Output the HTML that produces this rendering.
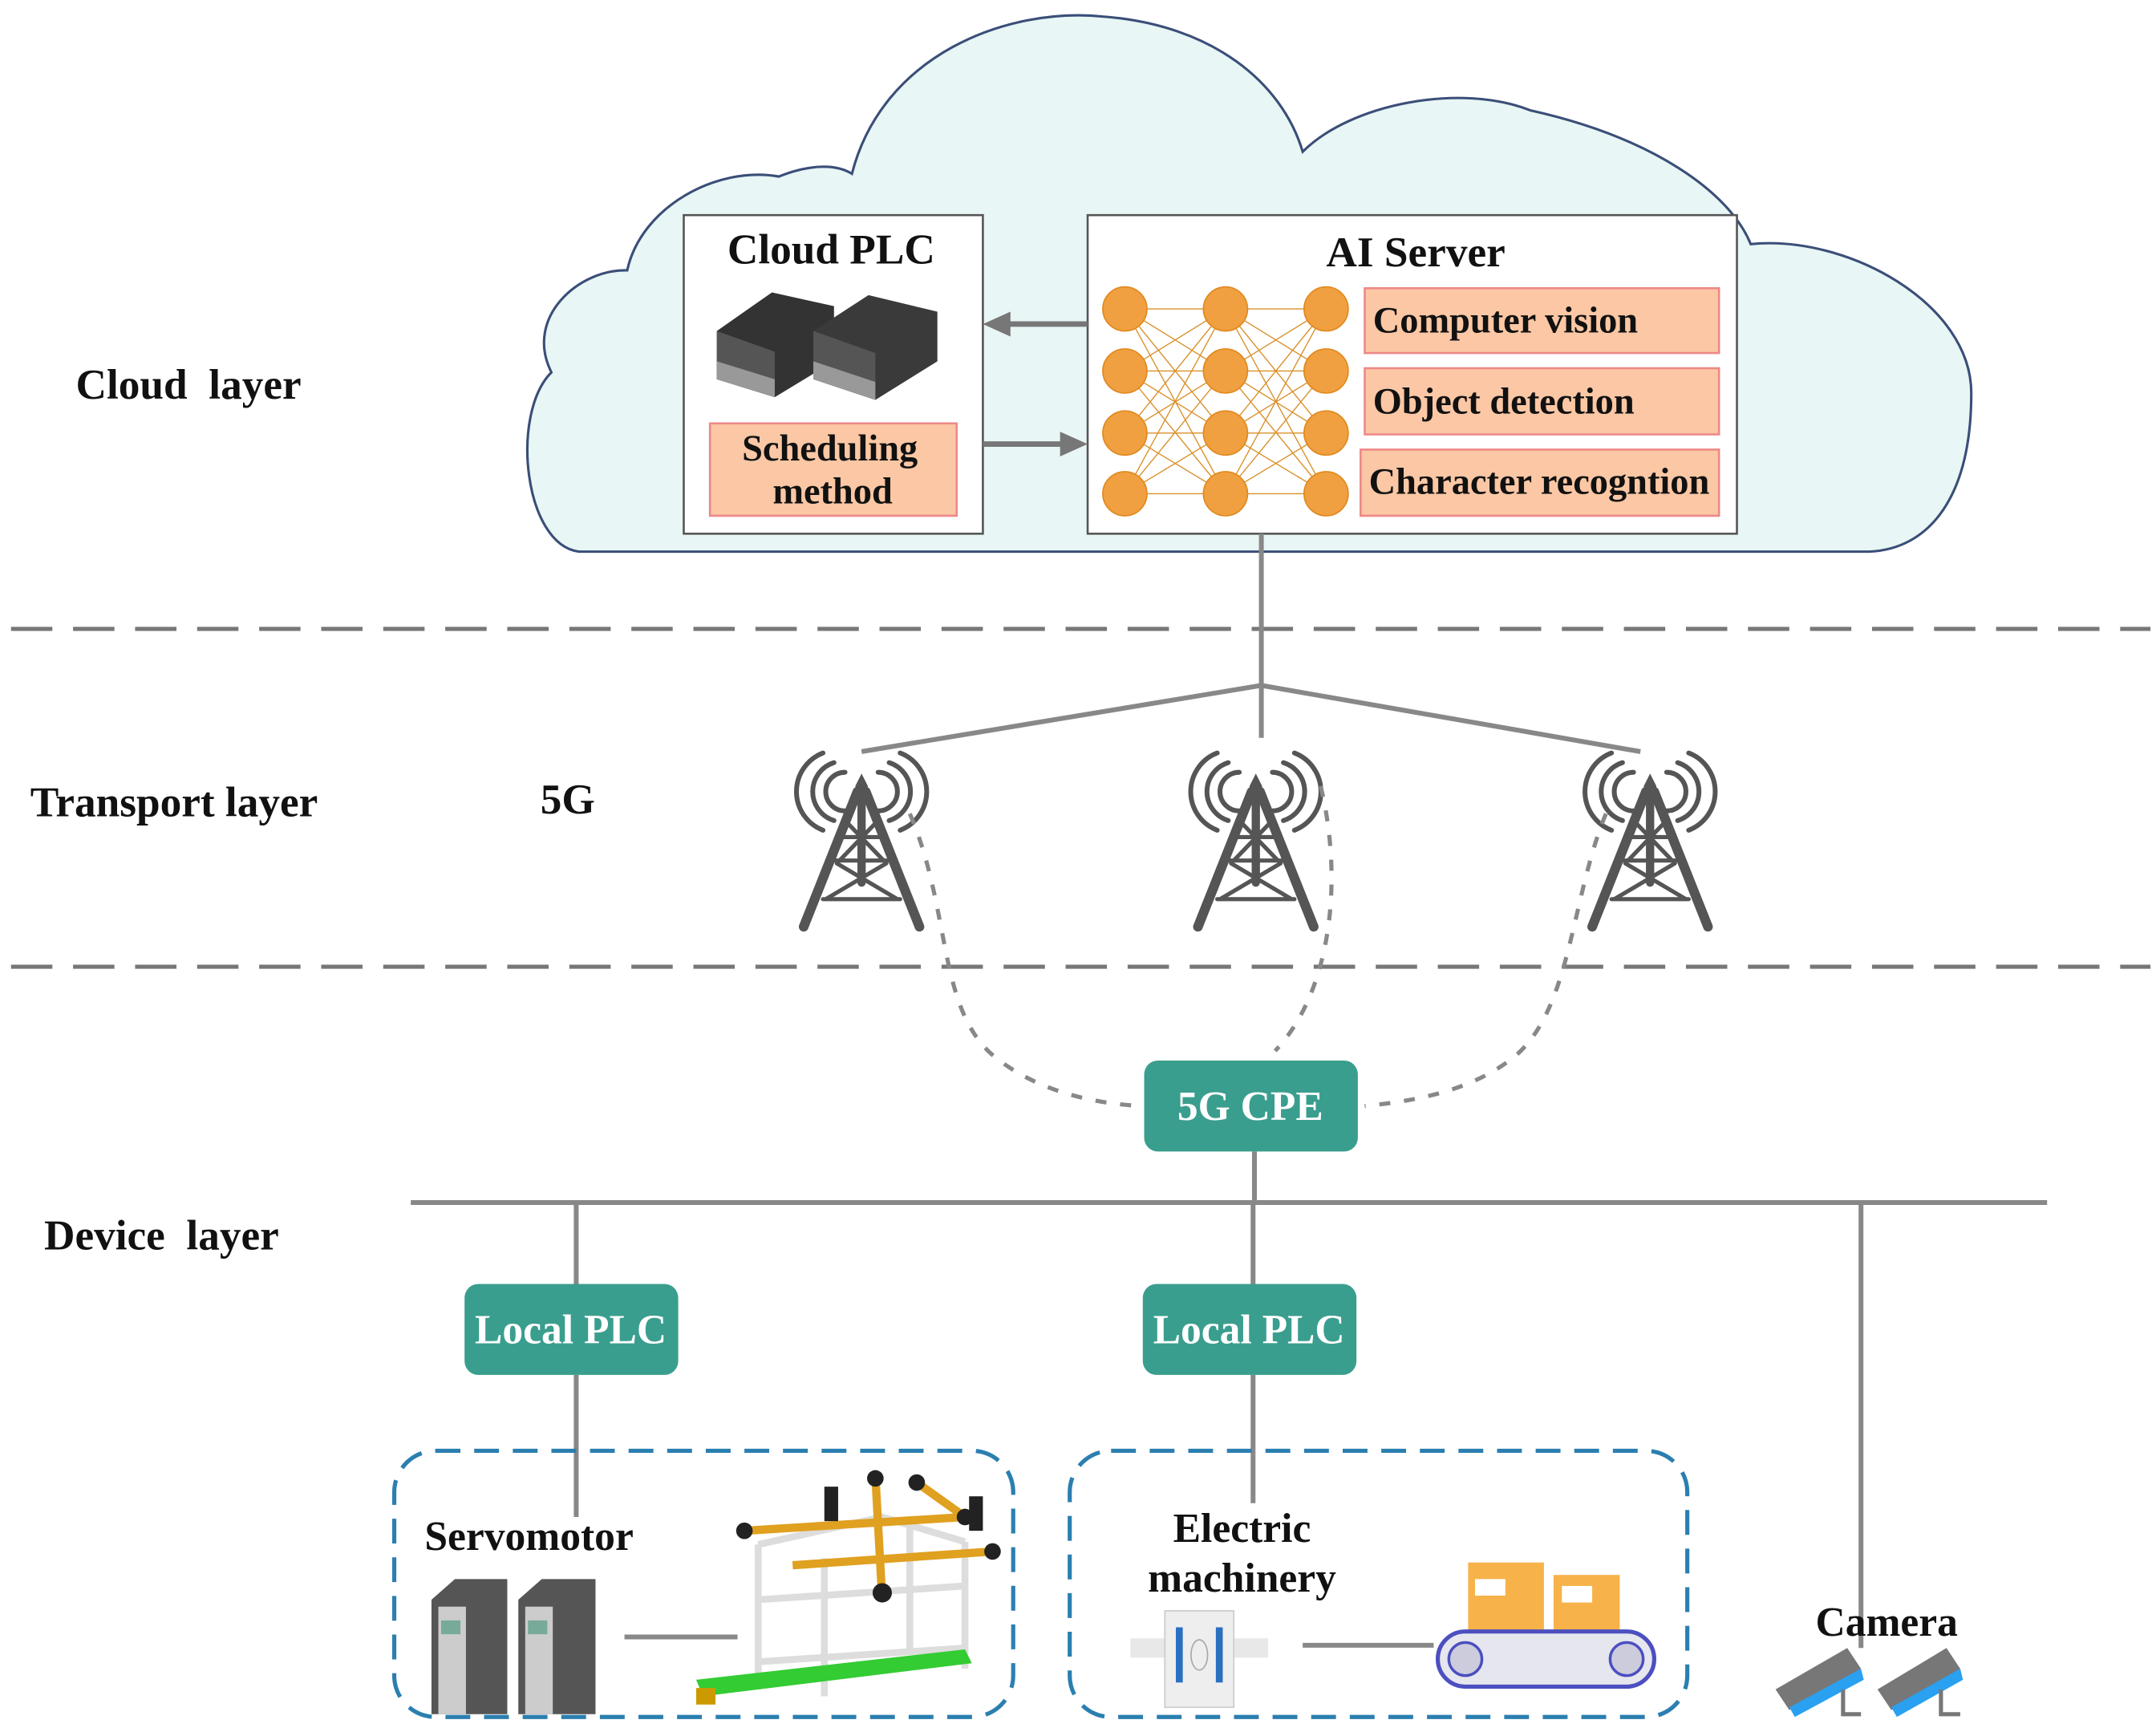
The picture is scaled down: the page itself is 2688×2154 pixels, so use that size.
<!DOCTYPE html>
<html><head><meta charset="utf-8"><style>html,body{margin:0;padding:0;background:#fff}svg{display:block}text{white-space:pre}</style></head>
<body>
<svg width="2688" height="2154" viewBox="0 0 1564 1253" preserveAspectRatio="none" xmlns="http://www.w3.org/2000/svg" font-family="Liberation Serif, serif" font-weight="bold" xml:space="preserve">
<defs>
<g id="tower" stroke="#555" fill="none" stroke-linecap="round">
  <path d="M0,0 L-4,8 L-4,14 L4,14 L4,8 Z" fill="#555"/>
  <path d="M-3,12 L-42,110 M3,12 L42,110" stroke-width="7"/>
  <path d="M0,14 L0,78" stroke-width="6"/>
  <path d="M-13,45 H13 M-19,62 H19 M-28,90 H28 M-10,35 L16,62 M10,35 L-16,62 M-18,64 L26,90 M18,64 L-26,90" stroke-width="3"/>
  <path d="M-12,-2 A14,14 0 0 0 -12,26 M-20,-9 A22,22 0 0 0 -20,33 M-28,-16 A30,30 0 0 0 -28,40" stroke-width="3.5"/>
  <path d="M12,-2 A14,14 0 0 1 12,26 M20,-9 A22,22 0 0 1 20,33 M28,-16 A30,30 0 0 1 28,40" stroke-width="3.5"/>
</g>
</defs>

<path d="M420,400 C380,395 370,300 400,270 C380,230 420,195 455,196 C465,150 520,120 565,128 C585,120 605,118 618,126 C640,40 730,5 800,12 C880,18 930,60 945,110 C980,75 1060,60 1110,80 C1200,100 1255,140 1270,177 C1340,170 1430,220 1430,285 C1430,360 1400,398 1356,400 Z" fill="#e8f6f5" stroke="#3a4e78" stroke-width="1.8"/>

<rect x="496" y="156" width="217" height="231" fill="#fff" stroke="#555" stroke-width="1.5"/>
<text x="603" y="191" font-size="31" text-anchor="middle" fill="#111">Cloud PLC</text>
<g>
  <path d="M520,240 L560,212 L605,222 L605,262 L562,288 L520,275 Z" fill="#333"/>
  <path d="M520,240 L562,255 L562,288 L520,275 Z" fill="#555"/>
  <path d="M520,262 L562,275 L562,288 L520,275 Z" fill="#999"/>
  <path d="M590,240 L630,214 L680,226 L680,262 L635,290 L590,275 Z" fill="#3a3a3a"/>
  <path d="M590,240 L635,256 L635,290 L590,275 Z" fill="#555"/>
  <path d="M590,262 L635,277 L635,290 L590,275 Z" fill="#999"/>
</g>
<rect x="515" y="307" width="179" height="67" fill="#fbc7a4" stroke="#e88" stroke-width="1.5"/>
<text x="602" y="334" font-size="27" text-anchor="middle" fill="#111">Scheduling</text>
<text x="604" y="365" font-size="27" text-anchor="middle" fill="#111">method</text>

<rect x="789" y="156" width="471" height="231" fill="#fff" stroke="#555" stroke-width="1.5"/>
<text x="1027" y="193" font-size="31" text-anchor="middle" fill="#111">AI Server</text>
<g stroke="#d9902a" stroke-width="0.8">
  <path d="M816,224 L889,224 M816,224 L889,269 M816,224 L889,314 M816,224 L889,358 M816,269 L889,224 M816,269 L889,269 M816,269 L889,314 M816,269 L889,358 M816,314 L889,224 M816,314 L889,269 M816,314 L889,314 M816,314 L889,358 M816,358 L889,224 M816,358 L889,269 M816,358 L889,314 M816,358 L889,358"/>
  <path d="M889,224 L962,224 M889,224 L962,269 M889,224 L962,314 M889,224 L962,358 M889,269 L962,224 M889,269 L962,269 M889,269 L962,314 M889,269 L962,358 M889,314 L962,224 M889,314 L962,269 M889,314 L962,314 M889,314 L962,358 M889,358 L962,224 M889,358 L962,269 M889,358 L962,314 M889,358 L962,358"/>
</g>
<g fill="#f0a040" stroke="#e08a20" stroke-width="1">
  <circle cx="816" cy="224" r="16"/><circle cx="816" cy="269" r="16"/><circle cx="816" cy="314" r="16"/><circle cx="816" cy="358" r="16"/>
  <circle cx="889" cy="224" r="16"/><circle cx="889" cy="269" r="16"/><circle cx="889" cy="314" r="16"/><circle cx="889" cy="358" r="16"/>
  <circle cx="962" cy="224" r="16"/><circle cx="962" cy="269" r="16"/><circle cx="962" cy="314" r="16"/><circle cx="962" cy="358" r="16"/>
</g>
<g fill="#fbc7a4" stroke="#e88" stroke-width="1.5">
  <rect x="990" y="209" width="257" height="47"/>
  <rect x="990" y="267" width="257" height="48"/>
  <rect x="987" y="326" width="260" height="48"/>
</g>
<g font-size="27" fill="#111">
  <text x="996" y="241">Computer vision</text>
  <text x="996" y="300">Object detection</text>
  <text x="993" y="358">Character recogntion</text>
</g>
<g stroke="#777" stroke-width="4">
  <line x1="789" y1="235" x2="730" y2="235"/>
  <line x1="713" y1="322" x2="772" y2="322"/>
</g>
<path d="M713,235 L733,226 L733,244 Z" fill="#777"/>
<path d="M789,322 L769,313 L769,331 Z" fill="#777"/>

<g stroke="#777" stroke-width="3" stroke-dasharray="30,15">
  <line x1="8" y1="456" x2="1560" y2="456"/>
  <line x1="8" y1="701" x2="1560" y2="701"/>
</g>

<g stroke="#888" stroke-width="3.5" fill="none">
  <line x1="915" y1="387" x2="915" y2="497"/>
  <line x1="915" y1="497" x2="625" y2="545"/>
  <line x1="915" y1="497" x2="915" y2="535"/>
  <line x1="915" y1="497" x2="1190" y2="545"/>
</g>
<use href="#tower" x="625" y="562"/>
<use href="#tower" x="911" y="562"/>
<use href="#tower" x="1197" y="562"/>

<g stroke="#888" stroke-width="3" fill="none" stroke-dasharray="8,10">
  <path d="M660,590 C690,660 680,730 720,765 C750,790 790,800 828,802"/>
  <path d="M958,570 C975,640 965,720 925,762"/>
  <path d="M1165,590 C1140,650 1140,730 1100,765 C1070,790 1030,798 990,802"/>
</g>

<g font-size="31" fill="#111">
  <text x="55" y="289">Cloud  layer</text>
  <text x="22" y="592">Transport layer</text>
  <text x="392" y="590">5G</text>
  <text x="32" y="906">Device  layer</text>
</g>

<g stroke="#888" stroke-width="3.5">
  <line x1="298" y1="872" x2="1485" y2="872"/>
  <line x1="910" y1="835" x2="910" y2="872"/>
  <line x1="418" y1="872" x2="418" y2="931"/>
  <line x1="909" y1="872" x2="909" y2="931"/>
  <line x1="1350" y1="872" x2="1350" y2="1195"/>
  <line x1="418" y1="997" x2="418" y2="1100"/>
  <line x1="909" y1="997" x2="909" y2="1090"/>
</g>
<g fill="#3a9e8e">
  <rect x="830" y="769" width="155" height="66" rx="10"/>
  <rect x="337" y="931" width="155" height="66" rx="10"/>
  <rect x="829" y="931" width="155" height="66" rx="10"/>
</g>
<g font-size="30" fill="#fff" text-anchor="middle">
  <text x="907" y="812">5G CPE</text>
  <text x="414" y="974">Local PLC</text>
  <text x="906" y="974">Local PLC</text>
</g>

<g fill="none" stroke="#2b7fb0" stroke-width="3" stroke-dasharray="18,10">
  <rect x="286" y="1052" width="449" height="193" rx="30"/>
  <rect x="776" y="1052" width="448" height="193" rx="30"/>
</g>

<g font-size="30" fill="#111">
  <text x="308" y="1124">Servomotor</text>
  <text x="901" y="1118" text-anchor="middle">Electric</text>
  <text x="901" y="1154" text-anchor="middle">machinery</text>
  <text x="1317" y="1186">Camera</text>
</g>

<g>
  <path d="M313,1160 L330,1145 L368,1145 L368,1243 L313,1243 Z" fill="#555"/>
  <rect x="318" y="1165" width="20" height="78" fill="#ccc"/>
  <rect x="320" y="1175" width="14" height="10" fill="#7a9"/>
  <path d="M376,1160 L393,1145 L432,1145 L432,1243 L376,1243 Z" fill="#555"/>
  <rect x="381" y="1165" width="20" height="78" fill="#ccc"/>
  <rect x="383" y="1175" width="14" height="10" fill="#7a9"/>
</g>
<line x1="453" y1="1187" x2="535" y2="1187" stroke="#888" stroke-width="3.5"/>
<g>
  <g stroke="#ddd" stroke-width="5" fill="none">
    <path d="M550,1120 L550,1225 M598,1130 L598,1230 M700,1118 L700,1210 M660,1105 L660,1200"/>
    <path d="M550,1160 L700,1150 M550,1205 L700,1195 M550,1120 L640,1100 L700,1118"/>
  </g>
  <g stroke="#e0a020" stroke-width="6">
    <path d="M540,1110 L700,1100 M575,1135 L720,1125 M635,1070 L640,1160 M665,1075 L700,1100"/>
  </g>
  <g fill="#222">
    <circle cx="540" cy="1110" r="6"/><circle cx="700" cy="1100" r="6"/><circle cx="720" cy="1125" r="6"/>
    <circle cx="635" cy="1072" r="6"/><circle cx="665" cy="1075" r="6"/><circle cx="640" cy="1155" r="7"/>
    <rect x="598" y="1078" width="10" height="25"/><rect x="703" y="1085" width="10" height="25"/>
  </g>
  <path d="M505,1218 L700,1196 L705,1206 L510,1230 Z" fill="#3c3"/>
  <rect x="505" y="1224" width="14" height="12" fill="#c90"/>
</g>

<g>
  <rect x="820" y="1188" width="100" height="14" fill="#e8e8e8"/>
  <rect x="845" y="1168" width="50" height="70" fill="#eee" stroke="#ccc"/>
  <rect x="853" y="1180" width="5" height="40" fill="#2a6fc0"/>
  <rect x="882" y="1180" width="5" height="40" fill="#2a6fc0"/>
  <ellipse cx="870" cy="1200" rx="6" ry="11" fill="none" stroke="#aaa"/>
</g>
<line x1="945" y1="1193" x2="1040" y2="1193" stroke="#888" stroke-width="3.5"/>
<g>
  <rect x="1065" y="1133" width="55" height="50" fill="#f7b24a"/>
  <rect x="1070" y="1145" width="22" height="12" fill="#fff"/>
  <rect x="1127" y="1142" width="48" height="41" fill="#f7b24a"/>
  <rect x="1133" y="1150" width="22" height="12" fill="#fff"/>
  <rect x="1043" y="1183" width="157" height="40" rx="20" fill="#e6e6ee" stroke="#4b4fc0" stroke-width="3"/>
  <circle cx="1063" cy="1203" r="12" fill="#ccd" stroke="#4b4fc0" stroke-width="2"/>
  <circle cx="1180" cy="1203" r="12" fill="#ccd" stroke="#4b4fc0" stroke-width="2"/>
</g>
<g>
  <path d="M1288,1225 L1340,1195 L1350,1210 L1298,1240 Z" fill="#777"/>
  <path d="M1298,1238 L1350,1210 L1352,1218 L1302,1245 Z" fill="#2aa0f0"/>
  <path d="M1337,1225 L1337,1243 L1350,1243" stroke="#777" stroke-width="3" fill="none"/>
  <path d="M1362,1225 L1412,1195 L1422,1210 L1372,1240 Z" fill="#777"/>
  <path d="M1372,1238 L1422,1210 L1424,1218 L1376,1245 Z" fill="#2aa0f0"/>
  <path d="M1408,1225 L1408,1243 L1422,1243" stroke="#777" stroke-width="3" fill="none"/>
</g>
</svg>
</body></html>
